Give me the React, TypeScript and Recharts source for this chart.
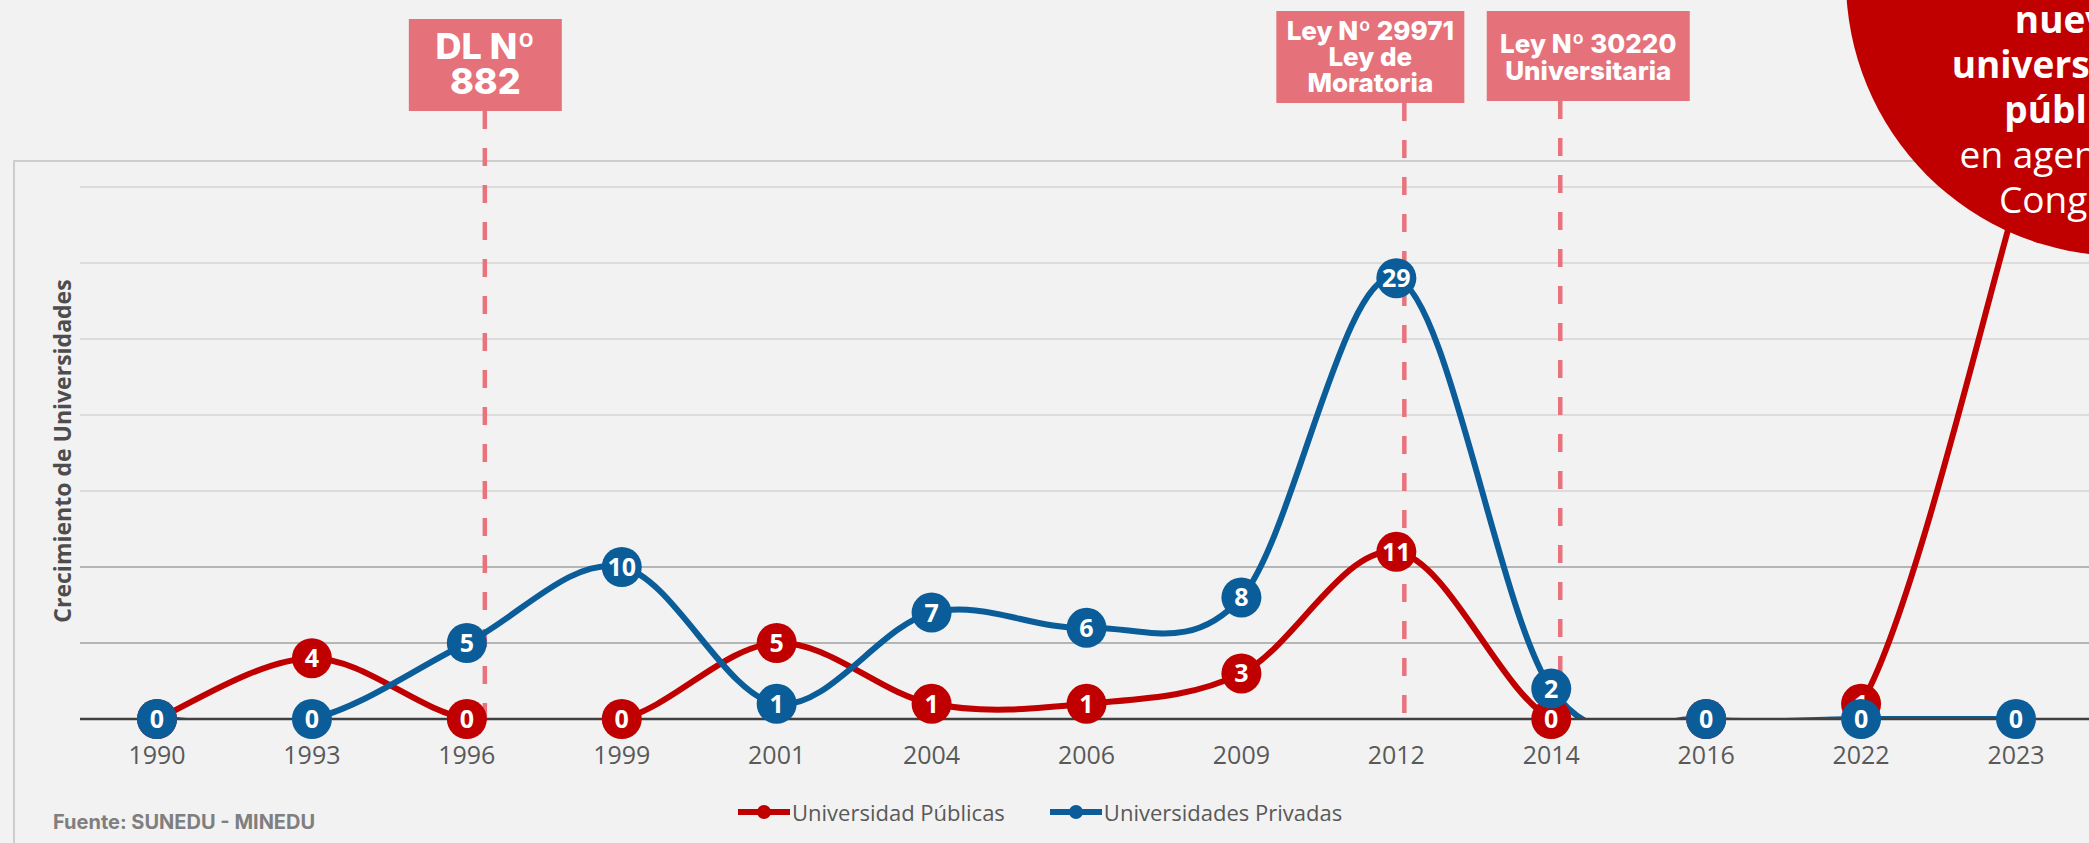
import React from 'react';
import {
  LineChart,
  Line,
  XAxis,
  YAxis,
  CartesianGrid,
  ReferenceLine,
} from 'recharts';

const years = ['1990', '1993', '1996', '1999', '2001', '2004', '2006', '2009', '2012', '2014', '2016', '2022', '2023'];
const publicas = [0, 4, 0, 0, 5, 1, 1, 3, 11, 0, 0, 1, 34];
const privadas = [0, 0, 5, 10, 1, 7, 6, 8, 29, 2, 0, 0, 0];
const yTicks = [0, 5, 10, 15, 20, 25, 30, 35];

const seriesKeys = ['publicas', 'privadas'];
const seriesNames = ['Universidad Públicas', 'Universidades Privadas'];
const seriesColors = ['#C00000', '#0B5D99'];

const annotationYears = ['1996', '2012', '2014'];
const annotationTexts = [
  ['DL Nº', '882'],
  ['Ley Nº 29971', 'Ley de', 'Moratoria'],
  ['Ley Nº 30220', 'Universitaria'],
];

const calloutLines = ['nuevas', 'universidades', 'públicas', 'en agenda del', 'Congreso'];
const calloutBold = [true, true, true, false, false];

const yAxisLabel = 'Crecimiento de Universidades';
const sourceText = 'Fuente: SUNEDU - MINEDU';

const data = years.map((year, i) => ({
  year,
  publicas: publicas[i],
  privadas: privadas[i],
}));

// layout of the annotation boxes (not data)
const annLayout: Record<string, any> = {
  '1996': { lineDx: 18, boxDx: 18.5, top: 19, w: 153, h: 92, fs: 36, baselines: [59, 94] },
  '2012': { lineDx: 8, boxDx: -26, top: 11, w: 188, h: 92, fs: 26, baselines: [40, 66, 92] },
  '2014': { lineDx: 9, boxDx: 37, top: 11, w: 203, h: 90, fs: 26, baselines: [53, 80] },
};

const ANN_BOX = '#E5727B';
const ANN_LINE = '#E8737D';

// Excel-like smoothing (uniform Catmull-Rom)
const smoothCurve: any = (context: any) => {
  let pts: number[][] = [];
  return {
    areaStart() {},
    areaEnd() {},
    lineStart() {
      pts = [];
    },
    point(x: number, y: number) {
      pts.push([+x, +y]);
    },
    lineEnd() {
      if (!pts.length) return;
      context.moveTo(pts[0][0], pts[0][1]);
      for (let i = 0; i < pts.length - 1; i++) {
        const p0 = pts[i - 1] || pts[i];
        const p1 = pts[i];
        const p2 = pts[i + 1];
        const p3 = pts[i + 2] || p2;
        context.bezierCurveTo(
          p1[0] + (p2[0] - p0[0]) / 6,
          p1[1] + (p2[1] - p0[1]) / 6,
          p2[0] - (p3[0] - p1[0]) / 6,
          p2[1] - (p3[1] - p1[1]) / 6,
          p2[0],
          p2[1]
        );
      }
    },
  };
};

function makeDot(color: string, key: string) {
  return (props: any) => {
    const { cx, cy, index, payload } = props;
    if (cx == null || cy == null) return <g key={`${key}-${index}`} />;
    return (
      <g key={`${key}-${index}`}>
        <circle cx={cx} cy={cy} r={20} fill={color} />
        <text
          x={cx}
          y={cy + 9}
          textAnchor="middle"
          fill="#fff"
          fontSize={25}
          fontWeight={700}
          fontFamily="'Open Sans', sans-serif"
        >
          {payload[key]}
        </text>
      </g>
    );
  };
}

function YearTick(props: any) {
  const { x, y, payload } = props;
  return (
    <text
      x={x}
      y={y + 19}
      textAnchor="middle"
      fill="#595959"
      fontSize={25}
      fontFamily="'Open Sans', sans-serif"
    >
      {payload.value}
    </text>
  );
}

function annotationShape(idx: number) {
  const year = annotationYears[idx];
  const L = annLayout[year];
  const lines = annotationTexts[idx];
  return (props: any) => {
    const { x1, y1, y2 } = props;
    const bottom = Math.max(y1, y2);
    const cx = x1 + L.boxDx;
    return (
      <g>
        <line
          x1={x1 + L.lineDx}
          x2={x1 + L.lineDx}
          y1={L.top + L.h}
          y2={bottom + 11}
          stroke={ANN_LINE}
          strokeWidth={4.5}
          strokeDasharray="18 19"
        />
        <rect x={cx - L.w / 2} y={L.top} width={L.w} height={L.h} fill={ANN_BOX} />
        {lines.map((t: string, i: number) => (
          <text
            key={i}
            x={cx}
            y={L.baselines[i]}
            textAnchor="middle"
            fill="#fff"
            fontSize={L.fs}
            fontWeight={800}
            fontFamily="Inter, 'Noto Sans', sans-serif"
          >
            {t}
          </text>
        ))}
      </g>
    );
  };
}

export default function App() {
  return (
    <div
      style={{
        position: 'relative',
        width: 2089,
        height: 843,
        overflow: 'hidden',
        background: '#F2F2F2',
        fontFamily: "'Open Sans', sans-serif",
      }}
    >
      <style>{`body{margin:0;background:#F2F2F2;}`}</style>

      <div
        style={{
          position: 'absolute',
          left: 13,
          top: 160,
          width: 2300,
          height: 900,
          border: '2px solid #CDCDCD',
          boxSizing: 'border-box',
        }}
      />

      <div style={{ position: 'absolute', left: 0, top: 0 }}>
        <LineChart
          width={2300}
          height={843}
          data={data}
          margin={{ top: 187, right: 100, left: 80, bottom: 0 }}
        >
          <CartesianGrid
            yAxisId="m"
            vertical={false}
            horizontalValues={[15, 20, 25, 30, 35]}
            stroke="#DCDCDC"
            strokeWidth={2}
          />
          <CartesianGrid
            yAxisId="m"
            vertical={false}
            horizontalValues={[5, 10]}
            stroke="#B5B5B5"
            strokeWidth={2}
          />
          <XAxis
            dataKey="year"
            interval={0}
            height={124}
            padding={{ left: 77, right: 184 }}
            tickLine={false}
            tickSize={0}
            tickMargin={26}
            axisLine={{ stroke: '#404040', strokeWidth: 2.5 }}
            tick={<YearTick />}
          />
          <YAxis yAxisId="c" hide type="number" domain={[0, 35]} ticks={yTicks} allowDataOverflow />
          <YAxis yAxisId="m" hide type="number" domain={[0, 35]} ticks={yTicks} />

          {annotationYears.map((yr, i) => (
            <ReferenceLine
              key={yr}
              x={yr}
              yAxisId="m"
              ifOverflow="visible"
              shape={annotationShape(i)}
            />
          ))}

          {seriesKeys.map((key, i) => [
            <Line
              key={`${key}-curve`}
              yAxisId="c"
              dataKey={key}
              name={seriesNames[i]}
              type={smoothCurve}
              stroke={seriesColors[i]}
              strokeWidth={6}
              dot={false}
              activeDot={false}
              isAnimationActive={false}
            />,
            <Line
              key={`${key}-dots`}
              yAxisId="m"
              dataKey={key}
              stroke="none"
              legendType="none"
              dot={makeDot(seriesColors[i], key)}
              activeDot={false}
              isAnimationActive={false}
            />,
          ])}
        </LineChart>
      </div>

      {/* y axis title */}
      <div
        style={{
          position: 'absolute',
          left: 62,
          top: 451,
          transform: 'translate(-50%, -50%) rotate(-90deg)',
          whiteSpace: 'nowrap',
          fontSize: 23,
          fontWeight: 700,
          color: '#4D4D4D',
        }}
      >
        {yAxisLabel}
      </div>

      {/* legend */}
      <div
        style={{
          position: 'absolute',
          left: 738,
          top: 797,
          display: 'flex',
          alignItems: 'center',
          gap: 45,
        }}
      >
        {seriesNames.map((name, i) => (
          <div key={name} style={{ display: 'flex', alignItems: 'center' }}>
            <svg width={52} height={18}>
              <line x1={1} x2={51} y1={9} y2={9} stroke={seriesColors[i]} strokeWidth={6} strokeLinecap="round" />
              <circle cx={26} cy={9} r={7} fill={seriesColors[i]} />
            </svg>
            <span style={{ fontSize: 22, color: '#595959', marginLeft: 2, lineHeight: '30px' }}>{name}</span>
          </div>
        ))}
      </div>

      {/* source */}
      <div
        style={{
          position: 'absolute',
          left: 53,
          top: 810,
          fontSize: 20,
          fontWeight: 700,
          color: '#7F7F7F',
          fontFamily: "Inter, 'Noto Sans', sans-serif",
          whiteSpace: 'nowrap',
        }}
      >
        {sourceText}
      </div>

      {/* callout bubble */}
      <svg
        width={2089}
        height={843}
        style={{ position: 'absolute', left: 0, top: 0, pointerEvents: 'none' }}
      >
        <circle cx={2122} cy={-20} r={276} fill="#C00000" />
        {calloutLines.map((t, i) => (
          <text
            key={i}
            x={2081}
            y={33 + i * 45}
            textAnchor="middle"
            fill="#fff"
            fontSize={37}
            fontWeight={calloutBold[i] ? 700 : 400}
            fontFamily="'Open Sans', sans-serif"
          >
            {t}
          </text>
        ))}
      </svg>
    </div>
  );
}
